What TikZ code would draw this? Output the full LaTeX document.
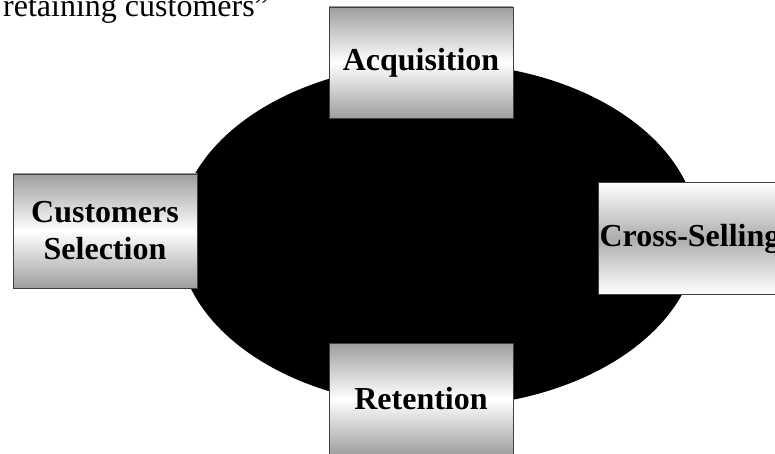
\documentclass[tikz,border=0pt]{standalone}
\usepackage{fontspec}
\setmainfont{Liberation Serif}
\usepackage{tikz}

\begin{document}
\begin{tikzpicture}[x=1pt,y=-1pt,
	stage/.style={draw=black!75,line width=0.8pt,minimum width=184pt,minimum height=112pt,inner sep=0pt,align=center,font=\fontsize{32}{37}\selectfont\bfseries,top color=black!38,bottom color=black!38,middle color=white},
	stageinv/.style={stage,top color=white,bottom color=white,middle color=black!32}]
			\clip (0,0) rectangle (775,454);
			\fill[black] (438,235) ellipse [x radius=260pt,y radius=172pt];
			\node[anchor=base west,inner sep=0pt,font=\fontsize{32}{37}\selectfont] (note) at (3,17) {retaining customers”};
			\node[stage,minimum height=111pt] (acq) at (421,62.5) {Acquisition};
			\node[stage,minimum height=114pt] (sel) at (105,231) {Customers\\Selection};
			\node[stageinv] (cross) at (690,238.5) {Cross-Selling};
			\node[stage] (ret) at (421,399) {Retention};
		\end{tikzpicture}
\end{document}
